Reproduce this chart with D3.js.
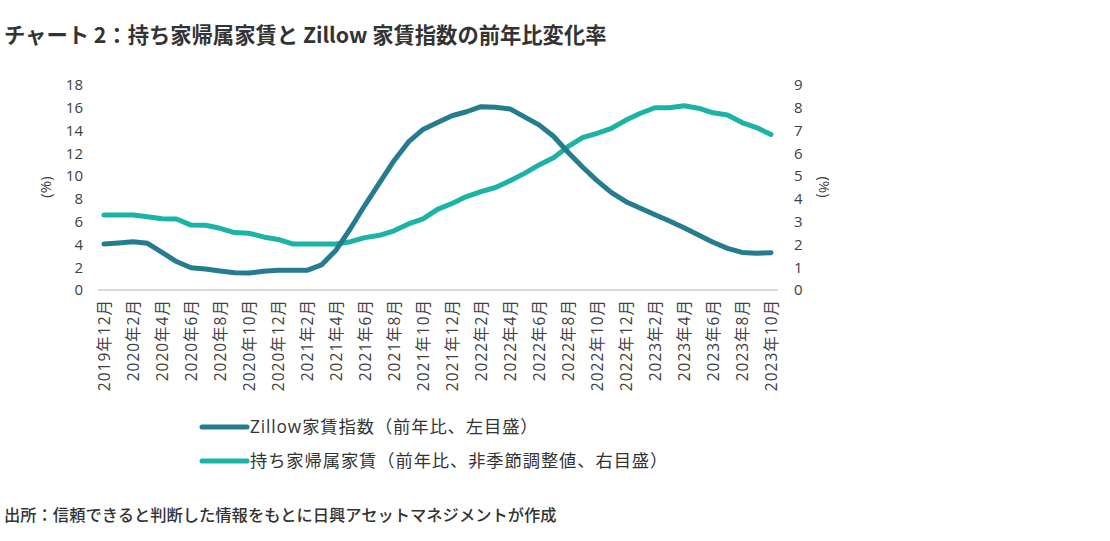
<!DOCTYPE html>
<html>
<head>
<meta charset="utf-8">
<script src="https://cdn.jsdelivr.net/npm/d3@7/dist/d3.min.js"></script>
<style>
  body { margin: 0; background: #fff; }
  svg { display: block; }
</style>
</head>
<body>
<svg id="chart" width="1110" height="541"></svg>
<script>
// chart data
var months = [
  "2019-12",
  "2020-01","2020-02","2020-03","2020-04","2020-05","2020-06","2020-07","2020-08","2020-09","2020-10","2020-11","2020-12",
  "2021-01","2021-02","2021-03","2021-04","2021-05","2021-06","2021-07","2021-08","2021-09","2021-10","2021-11","2021-12",
  "2022-01","2022-02","2022-03","2022-04","2022-05","2022-06","2022-07","2022-08","2022-09","2022-10","2022-11","2022-12",
  "2023-01","2023-02","2023-03","2023-04","2023-05","2023-06","2023-07","2023-08","2023-09","2023-10"
];

// Zillow rent index, y/y % (left axis)
var zillow = [
  4.04,
  4.13, 4.24, 4.10, 3.30, 2.50, 1.96, 1.84, 1.67, 1.52, 1.49, 1.64, 1.73,
  1.73, 1.73, 2.20, 3.50, 5.40, 7.46, 9.40, 11.35, 13.0, 14.1, 14.7, 15.3,
  15.65, 16.1, 16.05, 15.9, 15.2, 14.5, 13.5, 12.1, 10.8, 9.6, 8.55, 7.75,
  7.17, 6.6, 6.06, 5.47, 4.83, 4.19, 3.66, 3.30, 3.22, 3.28
];

// owners' equivalent rent, y/y % (right axis)
var oer = [
  3.29,
  3.29, 3.29, 3.22, 3.13, 3.12, 2.85, 2.84, 2.71, 2.52, 2.49, 2.33, 2.22,
  2.02, 2.02, 2.02, 2.02, 2.12, 2.30, 2.40, 2.60, 2.90, 3.12, 3.54, 3.80,
  4.10, 4.32, 4.50, 4.80, 5.12, 5.49, 5.81, 6.29, 6.69, 6.88, 7.10, 7.46,
  7.76, 8.00, 8.00, 8.09, 7.98, 7.78, 7.68, 7.35, 7.13, 6.83
];

var tickMonths = months.filter(function(m, i) { return i % 2 === 0; });
var tickLabels = [
  "2019年12月","2020年2月","2020年4月","2020年6月","2020年8月","2020年10月",
  "2020年12月","2021年2月","2021年4月","2021年6月","2021年8月","2021年10月",
  "2021年12月","2022年2月","2022年4月","2022年6月","2022年8月","2022年10月",
  "2022年12月","2023年2月","2023年4月","2023年6月","2023年8月","2023年10月"
];
var leftTicks = [0, 2, 4, 6, 8, 10, 12, 14, 16, 18];
var rightTicks = [0, 1, 2, 3, 4, 5, 6, 7, 8, 9];

var title = "チャート 2：持ち家帰属家賃と Zillow 家賃指数の前年比変化率";
var source = "出所：信頼できると判断した情報をもとに日興アセットマネジメントが作成";
var seriesNames = ["Zillow家賃指数（前年比、左目盛）", "持ち家帰属家賃（前年比、非季節調整値、右目盛）"];

var darkColor = "#257C8E", tealColor = "#1AB3A6", textColor = "#404040";
var fontAxis = "'Open Sans','Noto Sans CJK JP',sans-serif";
var fontCjk = "'Noto Sans CJK JP',sans-serif";

var svg = d3.select("#chart");

var x = d3.scalePoint().domain(months).range([104, 771]);
var yLeft = d3.scaleLinear().domain([0, 18]).range([290, 85]);
var yRight = d3.scaleLinear().domain([0, 9]).range([290, 85]);

// title
svg.append("text")
  .attr("x", 4).attr("y", 43)
  .attr("font-family", fontCjk)
  .attr("font-weight", "bold")
  .attr("font-size", 21.3)
  .attr("fill", "#333")
  .text(title);

// baseline
svg.append("line")
  .attr("x1", 98).attr("x2", 778)
  .attr("y1", yLeft(0)).attr("y2", yLeft(0))
  .attr("stroke", "#d9d9d9").attr("stroke-width", 2);

// left axis
var leftAxis = svg.append("g")
  .attr("transform", "translate(83,0)")
  .call(d3.axisLeft(yLeft).tickValues(leftTicks).tickSize(0).tickPadding(0));
leftAxis.select(".domain").remove();
leftAxis.selectAll("text")
  .attr("font-family", fontAxis).attr("font-size", 15).attr("fill", textColor);

// right axis
var rightAxis = svg.append("g")
  .attr("transform", "translate(794,0)")
  .call(d3.axisRight(yRight).tickValues(rightTicks).tickSize(0).tickPadding(0));
rightAxis.select(".domain").remove();
rightAxis.selectAll("text")
  .attr("font-family", fontAxis).attr("font-size", 15).attr("fill", textColor);

// axis titles
svg.append("text")
  .attr("transform", "translate(51,187) rotate(-90)")
  .attr("text-anchor", "middle")
  .attr("font-family", fontAxis).attr("font-size", 15).attr("fill", textColor)
  .text("(%)");
svg.append("text")
  .attr("transform", "translate(819,187) rotate(90)")
  .attr("text-anchor", "middle")
  .attr("font-family", fontAxis).attr("font-size", 15).attr("fill", textColor)
  .text("(%)");

// x axis, rotated labels
var xAxis = svg.append("g")
  .attr("transform", "translate(0,299)")
  .call(d3.axisBottom(x).tickValues(tickMonths)
    .tickFormat(function(d, i) { return tickLabels[i]; })
    .tickSize(0).tickPadding(0));
xAxis.select(".domain").remove();
xAxis.selectAll("text")
  .attr("font-family", fontAxis).attr("font-size", 15.5).attr("fill", textColor)
  .attr("letter-spacing", 1)
  .attr("transform", "rotate(-90)")
  .attr("text-anchor", "end")
  .attr("dy", "0.35em")
  .attr("x", 0).attr("y", 0);

// the two lines
var lineLeft = d3.line()
  .x(function(d, i) { return x(months[i]); })
  .y(function(d) { return yLeft(d); });
var lineRight = d3.line()
  .x(function(d, i) { return x(months[i]); })
  .y(function(d) { return yRight(d); });

svg.append("path")
  .datum(oer)
  .attr("d", lineRight)
  .attr("fill", "none").attr("stroke", tealColor)
  .attr("stroke-width", 5).attr("stroke-linejoin", "round").attr("stroke-linecap", "round");

svg.append("path")
  .datum(zillow)
  .attr("d", lineLeft)
  .attr("fill", "none").attr("stroke", darkColor)
  .attr("stroke-width", 5).attr("stroke-linejoin", "round").attr("stroke-linecap", "round");

// legend
var legend = svg.append("g");
[darkColor, tealColor].forEach(function(c, i) {
  var ly = 427 + i * 34;
  legend.append("line")
    .attr("x1", 202).attr("x2", 247).attr("y1", ly).attr("y2", ly)
    .attr("stroke", c).attr("stroke-width", 5).attr("stroke-linecap", "round");
  legend.append("text")
    .attr("x", 250).attr("y", ly).attr("dy", "0.35em")
    .attr("font-family", fontAxis).attr("font-size", 17.3)
    .attr("letter-spacing", 0.9)
    .attr("fill", "#333")
    .text(seriesNames[i]);
});

// source note
svg.append("text")
  .attr("x", 4).attr("y", 521)
  .attr("font-family", fontCjk)
  .attr("font-weight", 500)
  .attr("font-size", 16.3)
  .attr("fill", "#333")
  .text(source);
</script>
</body>
</html>
